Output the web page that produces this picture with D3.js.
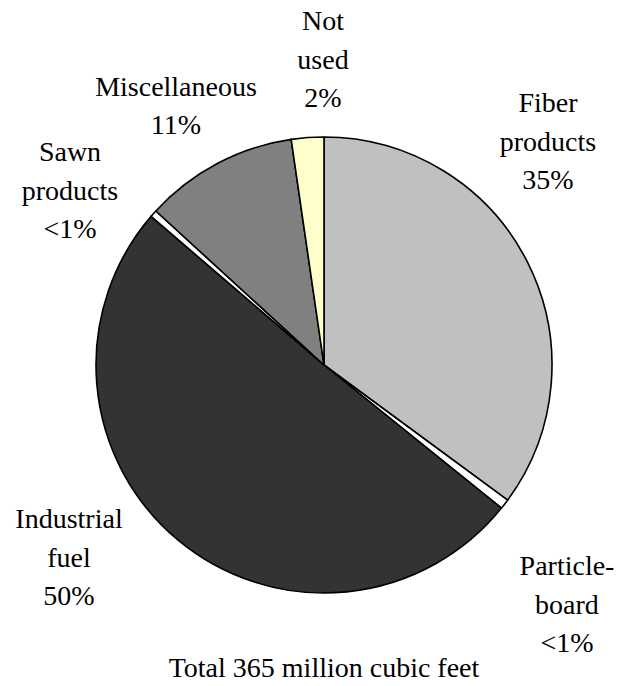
<!DOCTYPE html>
<html lang="en">
<head>
<meta charset="utf-8">
<title>Residue use pie</title>
<script src="https://cdn.jsdelivr.net/npm/d3@7"></script>
<style>
  body { margin: 0; background: #fff; }
</style>
</head>
<body>
<script>
// data, clockwise from 12 o'clock
var categories = ["Fiber products", "Particleboard", "Industrial fuel", "Sawn products", "Miscellaneous", "Not used"];
var shares = [35.1, 0.7, 50.5, 0.5, 10.9, 2.3];
var labelLines = [
  ["Fiber", "products", "35%"],
  ["Particle-", "board", "<1%"],
  ["Industrial", "fuel", "50%"],
  ["Sawn", "products", "<1%"],
  ["Miscellaneous", "11%"],
  ["Not", "used", "2%"]
];
var totalLabel = "Total 365 million cubic feet";

// layout
var width = 628, height = 686;
var cx = 324, cy = 365, radius = 228;
var fills = ["#c0c0c0", "#ffffff", "#333333", "#ffffff", "#808080", "#ffffcc"];
// label centres (middle line)
var labelCenters = [[548, 141], [567, 604], [69, 557], [70, 190], [176, 105], [323, 59]];
var lineStep = 38.5;
var fontFamily = "'Liberation Serif', 'Times New Roman', Times, 'DejaVu Serif', serif";
var fontSize = "28px";

var svg = d3.select("body").append("svg")
    .attr("width", width).attr("height", height);

var pie = d3.pie().sort(null).value(function(d) { return d; });
var arc = d3.arc().innerRadius(0).outerRadius(radius);

var g = svg.append("g").attr("transform", "translate(" + cx + "," + cy + ")");

g.selectAll("path").data(pie(shares)).enter().append("path")
    .attr("d", arc)
    .attr("fill", function(d, i) { return fills[i]; })
    .attr("stroke", "#000")
    .attr("stroke-width", 1.6)
    .attr("stroke-linejoin", "round");

var labels = svg.selectAll("text.lbl").data(labelLines).enter().append("text")
    .attr("class", "lbl")
    .attr("text-anchor", "middle")
    .style("font-family", fontFamily)
    .style("font-size", fontSize);

labels.each(function(lines, i) {
    var t = d3.select(this);
    var c = labelCenters[i];
    var n = lines.length;
    lines.forEach(function(line, k) {
        t.append("tspan")
            .attr("x", c[0])
            .attr("y", c[1] + (k - (n - 1) / 2) * lineStep)
            .attr("dy", "0.35em")
            .text(line);
    });
});

svg.append("text")
    .attr("x", cx).attr("y", 667)
    .attr("dy", "0.35em")
    .attr("text-anchor", "middle")
    .style("font-family", fontFamily)
    .style("font-size", fontSize)
    .text(totalLabel);
</script>
</body>
</html>
